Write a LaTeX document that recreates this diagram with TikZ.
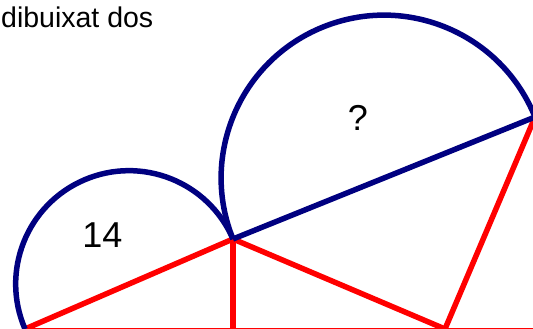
\documentclass[tikz,border=0pt]{standalone}
\usepackage{fontspec}
\setmainfont{Liberation Sans}
\usetikzlibrary{calc}
\definecolor{arcblue}{RGB}{0,0,128}
\definecolor{segred}{RGB}{255,0,0}

\begin{document}
\begin{tikzpicture}[x=1pt,y=1pt,
arcline/.style={draw=arcblue,line width=5.5pt},
segline/.style={draw=segred,line width=5.5pt},
lbl/.style={font=\fontsize{36}{40}\selectfont,inner sep=0pt}]
\useasboundingbox (0,0) rectangle (533,329);
\coordinate (A) at (25,0);
\coordinate (P) at (233,90);
\coordinate (H) at (233,0);
\coordinate (Q) at (445,0);
\coordinate (R) at (535,212);
\coordinate (E) at (545,0);
\node[font=\fontsize{28.5}{32}\selectfont,anchor=base west,inner sep=0pt] (caption) at (1,301) {dibuixat dos};
% red segments
\draw[segline] ([yshift=-1.8pt]A)--([yshift=-1.8pt]E);
\draw[segline] (A)--(P);
\draw[segline] (P)--(H);
\draw[segline] (P)--(Q);
\draw[segline] (Q)--(R);
% semicircles on AP and PR
\draw[arcline] (P) arc[start angle=23.4,delta angle=180,radius=113.32];
\draw[arcline] (R) arc[start angle=22.0,delta angle=180,radius=162.86];
\draw[arcline] (P)--(R);
\node[lbl] (small) at (102.5,94) {14};
\node[lbl] (big) at (358,211) {?};
\end{tikzpicture}
\end{document}
